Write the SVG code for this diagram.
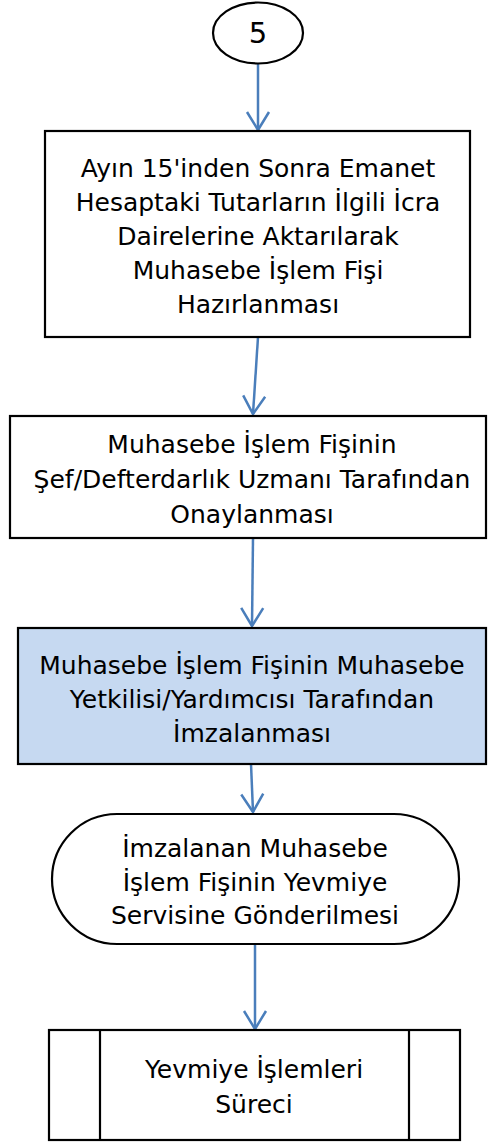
<svg xmlns="http://www.w3.org/2000/svg" width="489" height="1142" viewBox="0 0 489 1142">
<style>
.shape{fill:#fff;stroke:#000;stroke-width:2.2}
.blue{fill:#c6d9f1}
.t{font-family:"DejaVu Sans",sans-serif;font-size:25px;fill:#000;text-anchor:middle}
.big{font-size:29px}
.c{fill:none;stroke:#4a7ebb;stroke-width:2.5}
</style>
<defs>
<marker id="ah" markerUnits="userSpaceOnUse" markerWidth="30" markerHeight="30" viewBox="-20 -15 30 30" refX="0" refY="0" orient="auto">
<path d="M-18,-11 L0,0 L-18,11" fill="none" stroke="#4a7ebb" stroke-width="2.5"/>
</marker>
</defs>
<rect width="489" height="1142" fill="#fff"/>
<g id="connectors">
<line class="c" x1="258" y1="64" x2="258" y2="130" marker-end="url(#ah)"/>
<line class="c" x1="258" y1="337" x2="253" y2="414" marker-end="url(#ah)"/>
<line class="c" x1="253" y1="538" x2="252" y2="626" marker-end="url(#ah)"/>
<line class="c" x1="251" y1="764" x2="253" y2="812" marker-end="url(#ah)"/>
<line class="c" x1="255" y1="944" x2="255" y2="1029" marker-end="url(#ah)"/>
</g>
<g id="n0">
<ellipse class="shape" cx="258" cy="33" rx="45" ry="30.5"/>
<text class="t big" x="258" y="43">5</text>
</g>
<g id="n1">
<rect class="shape" x="45" y="131" width="425" height="206"/>
<text class="t" x="258" y="177">Ayın 15'inden Sonra Emanet</text>
<text class="t" x="258" y="211">Hesaptaki Tutarların İlgili İcra</text>
<text class="t" x="258" y="245">Dairelerine Aktarılarak</text>
<text class="t" x="258" y="279">Muhasebe İşlem Fişi</text>
<text class="t" x="258" y="313">Hazırlanması</text>
</g>
<g id="n2">
<rect class="shape" x="10" y="416" width="476" height="122"/>
<text class="t" x="252" y="453">Muhasebe İşlem Fişinin</text>
<text class="t" x="252" y="488">Şef/Defterdarlık Uzmanı Tarafından</text>
<text class="t" x="252" y="523">Onaylanması</text>
</g>
<g id="n3">
<rect class="shape blue" x="18" y="628" width="468" height="136"/>
<text class="t" x="252" y="674">Muhasebe İşlem Fişinin Muhasebe</text>
<text class="t" x="252" y="708">Yetkilisi/Yardımcısı Tarafından</text>
<text class="t" x="252" y="742">İmzalanması</text>
</g>
<g id="n4">
<rect class="shape" x="52" y="814" width="407" height="130" rx="65" ry="65"/>
<text class="t" x="255" y="857">İmzalanan Muhasebe</text>
<text class="t" x="255" y="891">İşlem Fişinin Yevmiye</text>
<text class="t" x="255" y="924">Servisine Gönderilmesi</text>
</g>
<g id="n5">
<rect class="shape" x="49" y="1030" width="411" height="110"/>
<line class="shape" x1="100" y1="1030" x2="100" y2="1140"/>
<line class="shape" x1="409" y1="1030" x2="409" y2="1140"/>
<text class="t" x="254" y="1078">Yevmiye İşlemleri</text>
<text class="t" x="254" y="1113">Süreci</text>
</g>
</svg>
